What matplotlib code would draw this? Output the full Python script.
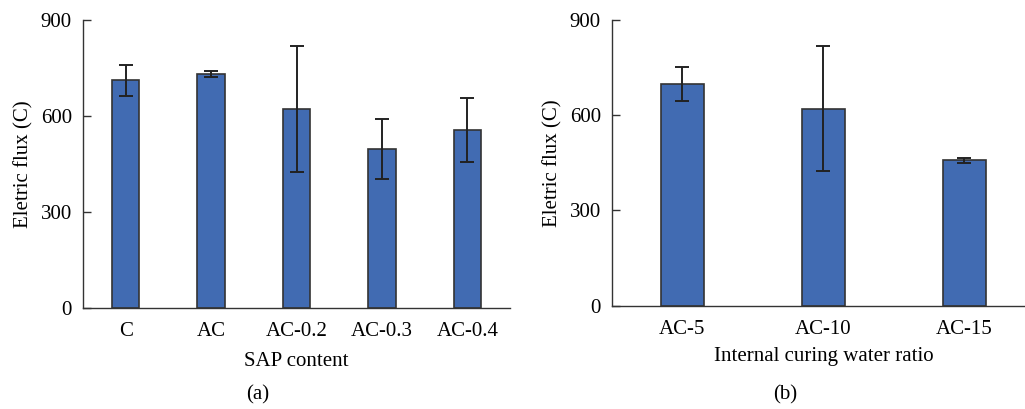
import matplotlib
matplotlib.use("Agg")
import matplotlib.pyplot as plt

plt.rcParams['font.family'] = ['Liberation Serif', 'DejaVu Serif']

# Panel (a)
cats_a = ["C", "AC", "AC-0.2", "AC-0.3", "AC-0.4"]
vals_a = [712, 731, 622, 497, 555]
errs_a = [48, 10, 196, 94, 100]

# Panel (b)
cats_b = ["AC-5", "AC-10", "AC-15"]
vals_b = [699, 621, 458]
errs_b = [53, 196, 8]

yticks = [0, 300, 600, 900]

bar_color = "#416BB2"
edge_color = "#333333"
fs = 15

fig = plt.figure(figsize=(10.25, 4.09), dpi=100)
ax1 = fig.add_axes([0.081, 0.247, 0.4166, 0.704])
ax2 = fig.add_axes([0.597, 0.2526, 0.4127, 0.6985])

def draw(ax, cats, vals, errs, xlabel, width, xpad):
    x = list(range(len(cats)))
    ax.bar(x, vals, width=width, color=bar_color, edgecolor=edge_color, linewidth=1.2, zorder=2)
    ax.errorbar(x, vals, yerr=errs, fmt='none', ecolor="#222222", elinewidth=1.4,
                capsize=5, capthick=1.4, zorder=3)
    ax.set_xlim(-0.5, len(cats) - 0.5)
    ax.set_ylim(0, 900)
    ax.set_yticks(yticks)
    ax.set_xticks(x)
    ax.set_xticklabels(cats)
    for s in ['top', 'right']:
        ax.spines[s].set_visible(False)
    for s in ['left', 'bottom']:
        ax.spines[s].set_color(edge_color)
        ax.spines[s].set_linewidth(1.0)
    ax.tick_params(axis='y', direction='in', length=6, width=1.0, color=edge_color,
                   labelsize=fs, pad=8)
    ax.tick_params(axis='x', length=0, labelsize=fs, pad=10)
    ax.set_ylabel("Eletric flux (C)", fontsize=fs, labelpad=5)
    ax.set_xlabel(xlabel, fontsize=fs, labelpad=xpad)

draw(ax1, cats_a, vals_a, errs_a, "SAP content", 0.32, 8)
draw(ax2, cats_b, vals_b, errs_b, "Internal curing water ratio", 0.31, 6)

fig.text(258 / 1025, 1 - 395 / 409, "(a)", ha='center', va='center', fontsize=fs)
fig.text(785 / 1025, 1 - 395 / 409, "(b)", ha='center', va='center', fontsize=fs)

fig.savefig("out.png", dpi=100)
